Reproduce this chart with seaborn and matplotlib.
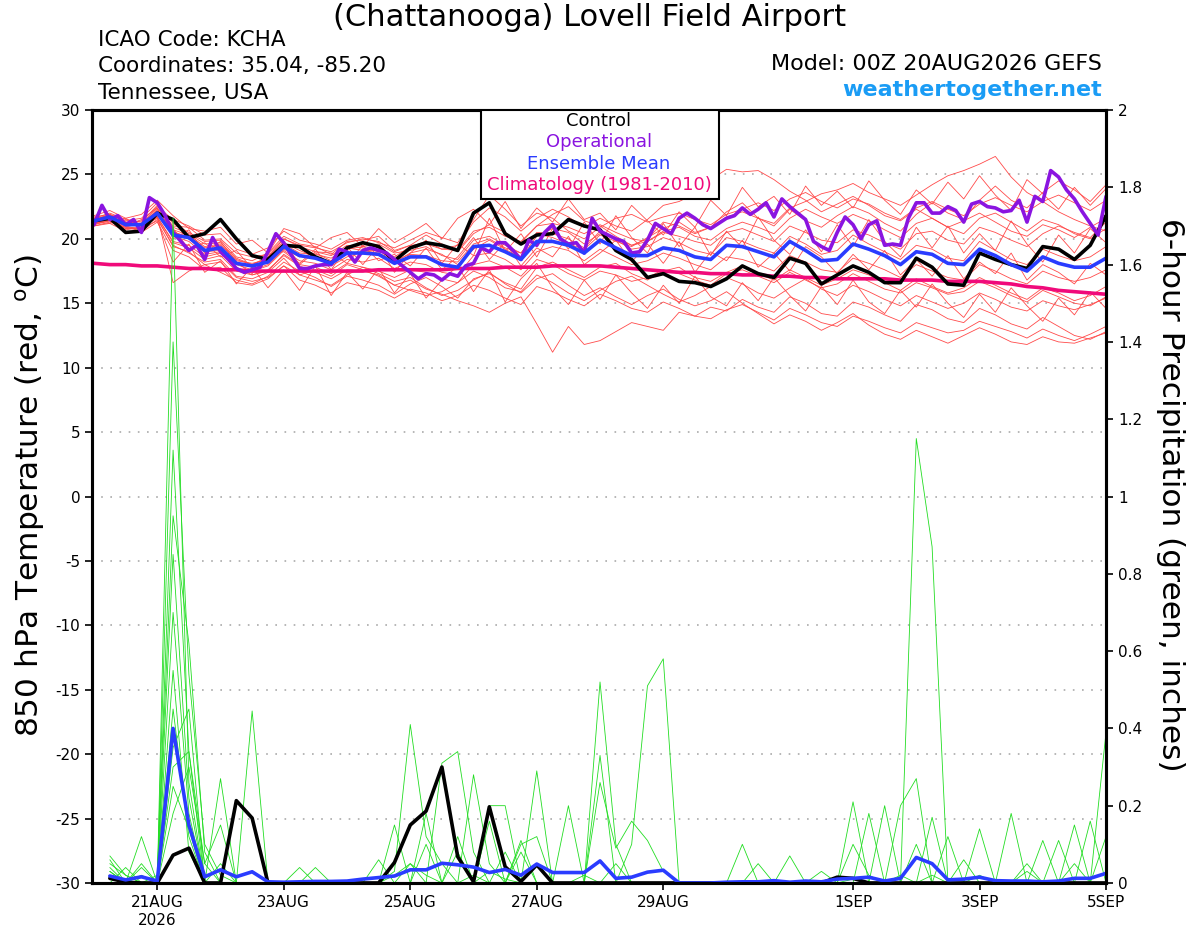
import matplotlib
matplotlib.use("Agg")
import matplotlib.pyplot as plt
from matplotlib.patches import Rectangle
import pandas as pd
import seaborn as sns

# forecast hours (GEFS 00Z 20AUG2026)
hours_6h = list(range(0, 385, 6))
hours_3h = list(range(0, 385, 3))
precip_hours = list(range(6, 385, 6))

tick_hours = [24, 72, 120, 168, 216, 288, 336, 384]
tick_labels = ["21AUG\n2026", "23AUG", "25AUG", "27AUG", "29AUG", "1SEP", "3SEP", "5SEP"]

# 850 hPa temperature (C)
control_t = [21.4, 21.6, 20.5, 20.6, 22.0, 21.5, 20.1, 20.4,
             21.5, 20.0, 18.7, 18.4, 19.5, 19.4, 18.6, 18.1,
             19.3, 19.7, 19.4, 18.3, 19.3, 19.7, 19.5, 19.1,
             22.0, 22.8, 20.4, 19.6, 20.3, 20.4, 21.5, 21.0,
             20.7, 19.1, 18.4, 17.0, 17.3, 16.7, 16.6, 16.3,
             16.9, 17.9, 17.3, 17.0, 18.5, 18.1, 16.5, 17.2,
             17.9, 17.4, 16.6, 16.6, 18.5, 17.8, 16.5, 16.4,
             18.9, 18.4, 18.0, 17.7, 19.4, 19.2, 18.4, 19.5,
             21.8]

oper_t = [21.1, 22.6, 21.5, 21.8, 21.1, 21.5, 20.5, 23.2,
          22.8, 21.8, 20.5, 19.8, 19.1, 19.5, 18.4, 20.1,
          19.0, 18.4, 17.7, 17.4, 17.6, 17.8, 19.0, 20.4,
          19.7, 18.7, 17.7, 17.7, 17.9, 18.0, 18.0, 19.2,
          19.0, 18.2, 19.1, 19.3, 19.1, 18.9, 18.4, 17.9,
          17.4, 16.9, 17.3, 17.2, 16.8, 17.3, 17.1, 17.9,
          18.1, 19.3, 19.0, 19.7, 19.7, 19.1, 18.4, 19.9,
          19.5, 20.5, 21.1, 20.0, 19.6, 19.7, 18.9, 21.6,
          20.6, 20.3, 20.0, 19.8, 18.9, 19.0, 19.9, 21.2,
          20.8, 20.4, 21.6, 22.0, 21.6, 21.1, 20.8, 21.2,
          21.6, 21.8, 22.4, 21.9, 22.3, 22.8, 21.7, 23.1,
          22.5, 22.0, 21.5, 19.8, 19.4, 19.1, 20.5, 21.7,
          21.1, 20.0, 21.1, 21.4, 19.5, 19.6, 19.5, 21.6,
          22.8, 22.8, 22.0, 22.0, 22.5, 22.2, 21.3, 22.7,
          22.9, 22.5, 22.4, 22.1, 22.2, 23.0, 21.3, 23.3,
          22.9, 25.3, 24.8, 23.8, 23.1, 22.1, 21.2, 20.3,
          23.3]

mean_t = [21.4, 21.7, 21.1, 21.1, 22.0, 20.3, 20.1, 19.1,
          19.3, 18.1, 17.9, 18.2, 19.4, 18.7, 18.5, 18.1,
          18.9, 18.9, 18.8, 18.1, 18.6, 18.6, 18.0, 17.8,
          19.4, 19.5, 19.0, 18.4, 19.8, 19.8, 19.5, 18.9,
          19.9, 19.3, 18.7, 18.7, 19.3, 19.1, 18.6, 18.4,
          19.5, 19.4, 19.0, 18.6, 19.8, 19.1, 18.3, 18.4,
          19.6, 19.2, 18.7, 18.0, 19.0, 18.8, 18.1, 18.0,
          19.2, 18.7, 18.0, 17.5, 18.6, 18.1, 17.8, 17.8,
          18.5]

clim_t = [18.1, 18.0, 18.0, 17.9, 17.9, 17.8, 17.7, 17.7,
          17.6, 17.6, 17.5, 17.5, 17.5, 17.5, 17.5, 17.5,
          17.5, 17.5, 17.6, 17.6, 17.6, 17.6, 17.6, 17.7,
          17.7, 17.7, 17.8, 17.8, 17.8, 17.9, 17.9, 17.9,
          17.9, 17.8, 17.7, 17.6, 17.5, 17.4, 17.4, 17.3,
          17.3, 17.2, 17.2, 17.1, 17.1, 17.0, 17.0, 16.9,
          16.9, 16.9, 16.9, 16.8, 16.8, 16.8, 16.7, 16.7,
          16.7, 16.6, 16.5, 16.3, 16.2, 16.0, 15.9, 15.8,
          15.7]

members_t = [
    [21.6, 22.0, 21.5, 21.3, 22.6, 21.2, 20.5, 19.8, 19.9, 18.6, 18.3, 18.9, 20.2, 19.6, 19.4, 18.8,
     19.8, 19.9, 20.2, 19.1, 19.5, 20.3, 19.6, 19.0, 20.4, 21.1, 20.5, 19.7, 21.0, 21.9, 22.5, 21.4,
     21.0, 20.2, 19.5, 20.0, 21.3, 21.0, 20.4, 20.9, 22.1, 22.8, 21.6, 21.0, 22.3, 21.4, 20.9, 21.8,
     22.5, 22.0, 21.2, 20.6, 21.9, 22.8, 22.0, 21.5, 23.0, 24.1, 23.0, 22.4, 23.6, 24.5, 23.8, 22.9, 24.2],
    [21.2, 21.5, 20.8, 20.9, 21.7, 19.8, 19.5, 18.6, 18.9, 17.8, 17.2, 17.6, 18.7, 17.9, 17.4, 16.9,
     17.6, 17.5, 17.2, 16.4, 16.8, 16.1, 15.7, 15.2, 14.8, 14.3, 15.0, 15.5, 13.4, 11.2, 13.2, 11.8,
     12.1, 12.8, 13.5, 13.2, 12.9, 14.3, 14.0, 14.7, 14.4, 15.3, 14.7, 14.3, 15.5, 15.0, 14.2, 14.0,
     15.1, 14.7, 14.1, 13.6, 14.9, 14.5, 13.8, 13.5, 14.6, 14.1, 13.4, 13.0, 13.9, 13.2, 12.5, 12.2, 12.8],
    [21.0, 21.3, 20.9, 20.6, 21.5, 19.5, 18.9, 18.2, 18.4, 17.1, 16.9, 17.4, 18.5, 17.2, 16.8, 16.4,
     17.2, 17.8, 17.3, 16.7, 17.0, 16.2, 15.6, 16.0, 16.8, 17.4, 16.5, 15.8, 16.9, 17.3, 16.4, 15.6,
     16.2, 15.5, 14.9, 15.6, 16.1, 15.3, 14.8, 15.2, 15.9, 15.0, 14.2, 13.4, 14.1, 13.6, 12.9, 13.5,
     14.2, 13.3, 12.6, 12.2, 12.9, 12.4, 11.9, 12.5, 13.1, 12.6, 12.0, 11.8, 12.4, 12.0, 11.9, 12.3, 12.7],
    [21.5, 21.9, 21.4, 21.6, 22.8, 20.9, 20.4, 19.6, 19.7, 18.5, 18.0, 18.6, 20.0, 19.4, 19.0, 18.7,
     19.5, 19.3, 19.0, 18.6, 19.4, 19.8, 19.2, 19.5, 21.3, 22.4, 21.7, 20.6, 21.6, 22.3, 21.7, 20.9,
     21.6, 21.0, 20.6, 21.5, 22.6, 22.9, 23.5, 24.6, 25.4, 25.2, 25.3, 24.6, 23.7, 23.0, 22.1, 22.7,
     23.3, 22.6, 21.8, 21.4, 22.3, 21.6, 20.9, 21.4, 22.0, 21.3, 20.6, 20.2, 21.1, 20.7, 20.1, 20.9, 21.6],
    [21.3, 21.8, 21.2, 21.0, 22.3, 20.6, 20.0, 19.0, 19.1, 18.0, 17.6, 18.0, 19.2, 18.6, 18.9, 18.3,
     19.2, 19.4, 19.6, 18.9, 19.1, 19.4, 18.7, 18.4, 19.9, 20.2, 19.5, 18.9, 20.4, 20.1, 19.6, 19.2,
     20.3, 19.8, 19.4, 20.1, 20.8, 21.3, 20.5, 20.9, 21.7, 22.1, 21.6, 21.2, 22.4, 22.9, 23.5, 23.8,
     24.3, 23.6, 23.1, 22.6, 23.4, 24.2, 24.9, 25.3, 25.8, 26.4, 24.8, 23.6, 22.9, 22.1, 21.5, 21.0, 20.6],
    [21.1, 21.4, 20.7, 20.9, 21.6, 19.4, 19.0, 18.0, 18.2, 17.0, 16.7, 17.0, 17.9, 17.2, 17.6, 17.1,
     18.0, 17.6, 17.1, 16.4, 16.0, 15.6, 15.9, 16.6, 17.5, 17.0, 16.2, 15.9, 17.2, 16.6, 15.8, 15.2,
     16.0, 16.7, 17.1, 16.4, 15.7, 15.1, 15.6, 16.3, 17.0, 16.5, 15.8, 15.4, 16.2, 16.9, 16.1, 15.6,
     16.4, 15.9, 15.3, 14.8, 15.6, 15.1, 14.6, 15.0, 15.8, 15.3, 14.7, 14.4, 15.2, 14.8, 14.5, 14.9, 15.4],
    [21.7, 21.9, 21.3, 21.2, 22.4, 21.0, 20.9, 19.9, 20.0, 18.9, 18.6, 18.8, 20.0, 19.5, 19.3, 19.0,
     19.7, 20.0, 19.8, 19.0, 19.5, 19.6, 19.2, 19.1, 20.6, 20.9, 20.2, 19.8, 21.0, 21.2, 20.9, 20.4,
     21.1, 20.5, 20.0, 19.8, 20.5, 20.2, 19.8, 19.5, 20.5, 20.8, 20.3, 19.8, 21.0, 20.5, 19.9, 19.7,
     20.7, 20.3, 19.7, 19.2, 20.4, 20.6, 19.9, 19.6, 20.9, 20.5, 19.9, 19.4, 20.4, 21.0, 20.5, 20.1, 21.3],
    [21.4, 21.6, 21.0, 20.7, 21.8, 16.6, 17.5, 18.0, 17.4, 16.8, 16.5, 17.1, 18.2, 17.5, 17.0, 16.3,
     17.1, 16.8, 16.4, 15.7, 16.5, 17.0, 16.3, 15.4, 16.9, 17.3, 16.6, 16.1, 17.8, 18.2, 17.6, 17.0,
     17.8, 18.1, 17.3, 16.8, 17.5, 17.8, 17.0, 16.7, 17.4, 17.9, 17.3, 16.8, 17.6, 17.0, 16.4, 16.9,
     17.6, 17.2, 16.6, 16.0, 16.9, 16.3, 15.8, 16.2, 17.0, 16.4, 15.8, 15.3, 16.2, 15.8, 15.2, 15.6, 16.3],
    [21.5, 21.7, 21.2, 21.4, 22.5, 21.5, 21.0, 20.3, 20.4, 19.2, 18.8, 19.3, 20.6, 19.9, 19.6, 19.2,
     19.9, 20.1, 19.7, 19.3, 19.9, 20.5, 20.1, 19.7, 21.5, 23.4, 22.3, 21.0, 22.0, 21.6, 20.6, 20.0,
     20.9, 21.6, 21.9, 21.3, 21.7, 22.0, 21.5, 21.1, 21.9, 22.3, 22.8, 22.2, 23.1, 23.6, 22.9, 22.4,
     23.1, 22.7, 22.0, 21.5, 22.4, 22.9, 22.3, 21.8, 22.7, 23.2, 22.6, 22.1, 22.9, 23.4, 22.8, 22.2, 23.0],
    [21.2, 21.6, 21.0, 21.1, 21.9, 20.2, 19.8, 18.8, 19.0, 17.7, 17.5, 17.9, 19.1, 18.3, 18.1, 17.6,
     18.4, 18.2, 18.5, 17.7, 18.2, 18.0, 17.4, 17.2, 18.7, 18.9, 18.4, 17.6, 19.0, 19.4, 19.1, 18.3,
     19.2, 18.6, 18.0, 18.3, 18.9, 18.5, 18.0, 17.6, 18.6, 18.4, 18.0, 17.5, 18.7, 18.2, 17.6, 17.4,
     18.5, 18.1, 17.6, 17.0, 18.0, 17.5, 17.0, 16.8, 18.0, 17.5, 16.9, 16.5, 17.5, 17.0, 16.7, 17.0, 17.6],
    [21.3, 21.5, 21.0, 21.2, 22.2, 20.7, 20.3, 19.4, 19.6, 18.3, 18.1, 18.4, 19.7, 19.1, 18.6, 17.9,
     18.6, 19.0, 19.2, 18.2, 18.9, 19.2, 18.8, 18.0, 19.2, 19.9, 19.2, 18.5, 20.2, 20.8, 20.5, 19.6,
     20.4, 20.0, 19.5, 19.8, 20.6, 20.9, 20.2, 19.9, 20.8, 21.3, 20.9, 20.4, 21.6, 22.3, 21.7, 21.2,
     21.9, 21.4, 20.7, 20.1, 21.2, 21.6, 20.9, 20.4, 21.6, 22.0, 21.3, 20.6, 21.5, 21.1, 20.4, 20.0, 20.8],
    [21.0, 21.2, 20.6, 20.5, 21.3, 19.1, 18.6, 17.6, 17.8, 16.6, 16.4, 16.9, 17.9, 16.8, 16.4, 15.8,
     16.6, 16.3, 16.0, 15.4, 16.1, 15.8, 15.2, 15.6, 16.4, 16.0, 15.4, 14.9, 16.3, 15.9, 15.3, 14.8,
     15.7, 15.2, 14.6, 14.3, 15.1, 14.6, 14.0, 13.8, 14.5, 14.9, 14.3, 13.7, 14.6, 14.1, 13.5, 13.2,
     14.0, 13.6, 13.1, 12.7, 13.5, 13.1, 12.7, 12.9, 13.6, 13.2, 12.8, 12.3, 13.0, 12.5, 12.1, 12.6, 13.2],
    [21.6, 21.8, 21.3, 21.1, 22.1, 20.5, 20.2, 19.3, 19.5, 18.4, 18.0, 18.5, 19.6, 18.9, 18.8, 18.5,
     19.3, 19.1, 18.9, 18.3, 18.8, 18.7, 18.3, 18.2, 19.6, 20.0, 19.3, 18.9, 20.5, 20.4, 20.0, 19.3,
     20.6, 19.9, 19.2, 19.4, 20.1, 19.7, 19.1, 18.8, 20.1, 19.8, 19.3, 18.9, 20.2, 19.6, 18.8, 19.1,
     20.3, 19.6, 19.0, 18.4, 19.5, 19.2, 18.5, 18.3, 19.8, 19.1, 18.4, 18.0, 19.2, 18.7, 18.3, 18.6, 19.4],
    [21.2, 21.4, 20.8, 20.8, 21.7, 19.7, 19.3, 18.4, 18.7, 17.5, 17.2, 17.5, 18.8, 18.0, 17.8, 17.3,
     18.1, 17.8, 17.5, 17.0, 17.6, 17.4, 16.9, 16.6, 18.0, 18.3, 17.8, 17.1, 18.4, 18.0, 17.3, 16.8,
     17.5, 17.2, 16.7, 17.0, 17.6, 17.3, 16.8, 16.4, 17.3, 17.6, 17.1, 16.6, 17.4, 16.8, 16.2, 16.5,
     17.3, 16.7, 16.1, 15.8, 16.6, 16.2, 15.7, 15.9, 16.7, 16.2, 15.6, 15.1, 16.0, 15.5, 15.0, 14.8, 15.5],
    [21.4, 21.9, 21.0, 21.5, 22.4, 20.0, 20.7, 18.9, 19.8, 18.2, 17.3, 18.8, 19.0, 18.1, 19.2, 17.6,
     19.4, 18.0, 19.5, 17.4, 18.9, 19.9, 18.1, 19.6, 18.7, 21.6, 19.0, 20.4, 18.6, 20.8, 19.2, 21.3,
     19.6, 21.8, 20.1, 18.9, 21.2, 19.4, 20.9, 18.7, 20.6, 19.3, 21.7, 19.9, 18.8, 20.7, 19.0, 21.1,
     19.4, 21.5, 19.8, 18.6, 20.9, 19.3, 21.0, 18.9, 20.4, 19.1, 21.4, 19.6, 18.2, 20.3, 18.9, 20.8, 19.7],
    [21.1, 21.5, 20.9, 20.8, 21.4, 18.2, 19.6, 17.4, 18.3, 16.5, 17.8, 16.2, 17.6, 16.0, 17.9, 15.6,
     17.4, 16.1, 17.7, 15.8, 17.3, 15.4, 16.8, 17.9, 15.9, 17.6, 15.1, 16.9, 18.1, 16.2, 14.9, 16.8,
     15.3, 17.2, 15.8, 14.6, 16.4, 15.0, 17.1, 15.5, 14.8, 16.6, 15.2, 17.0, 15.6, 14.4, 16.3, 14.9,
     16.8, 15.1, 14.2, 16.0, 14.7, 16.5, 15.0, 13.9, 15.7, 14.3, 16.2, 14.8, 13.6, 15.4, 14.1, 15.9, 14.6],
    [21.8, 22.2, 21.6, 21.9, 23.0, 21.8, 20.8, 20.6, 20.9, 19.6, 19.9, 18.9, 20.8, 20.4, 19.3, 20.1,
     20.5, 19.4, 20.8, 19.7, 20.4, 21.2, 20.0, 21.6, 22.3, 21.1, 22.9, 20.8, 22.4, 21.3, 23.1, 21.5,
     22.0, 20.7, 22.6, 21.4, 20.3, 22.1, 20.9, 23.0, 21.8, 24.0, 22.5, 23.3, 21.9, 24.1, 22.6, 23.7,
     22.4, 24.5, 23.0, 21.9, 23.8, 22.7, 24.4, 23.1, 24.9, 23.4, 22.2, 24.6, 23.5, 22.3, 24.0, 22.6, 23.9],
    [21.3, 21.2, 21.6, 20.9, 21.9, 20.8, 19.2, 19.7, 18.6, 19.1, 17.7, 18.6, 19.8, 18.0, 19.0, 18.9,
     18.1, 19.5, 18.3, 18.8, 17.9, 19.3, 17.6, 18.6, 20.1, 18.4, 19.7, 17.9, 19.3, 18.6, 20.2, 18.0,
     18.9, 19.9, 18.2, 19.6, 18.1, 19.8, 17.4, 19.0, 18.3, 19.9, 17.8, 18.9, 17.5, 19.4, 18.6, 17.3,
     18.8, 17.6, 19.1, 17.2, 18.4, 17.1, 18.7, 16.9, 18.2, 17.3, 18.9, 16.8, 18.0, 17.4, 16.5, 18.1, 17.2],
]

# 6-hour precipitation (inches)
control_p = [0.012, 0.002, 0.0, 0.0, 0.072, 0.09, 0.0, 0.0,
             0.213, 0.168, 0.0, 0.0, 0.0, 0.0, 0.0, 0.0,
             0.0, 0.0, 0.053, 0.15, 0.186, 0.30, 0.068, 0.003,
             0.197, 0.042, 0.004, 0.047, 0.0, 0.0, 0.0, 0.0,
             0.0, 0.0, 0.0, 0.0, 0.0, 0.0, 0.0, 0.0,
             0.0, 0.0, 0.0, 0.0, 0.0, 0.0, 0.015, 0.012,
             0.0, 0.0, 0.0, 0.0, 0.0, 0.0, 0.0, 0.0,
             0.0, 0.0, 0.0, 0.0, 0.0, 0.0, 0.0, 0.0]

mean_p = [0.018, 0.008, 0.016, 0.005, 0.40, 0.15, 0.016, 0.034,
          0.016, 0.029, 0.003, 0.002, 0.003, 0.004, 0.004, 0.005,
          0.010, 0.014, 0.018, 0.034, 0.034, 0.051, 0.047, 0.041,
          0.027, 0.035, 0.020, 0.049, 0.027, 0.027, 0.027, 0.057,
          0.012, 0.015, 0.028, 0.033, 0.0, 0.0, 0.0, 0.002,
          0.003, 0.003, 0.006, 0.002, 0.005, 0.003, 0.010, 0.012,
          0.015, 0.005, 0.012, 0.066, 0.050, 0.008, 0.010, 0.015,
          0.006, 0.005, 0.005, 0.003, 0.005, 0.012, 0.012, 0.025]

members_p = [
    [0.07, 0.02, 0.0, 0.0, 1.72, 0.26, 0.0, 0.0, 0.0, 0.0, 0.0, 0.0, 0.0, 0.0, 0.0, 0.0,
     0.0, 0.0, 0.02, 0.05, 0.02, 0.0, 0.0, 0.0, 0.03, 0.01, 0.0, 0.0, 0.0, 0.0, 0.02, 0.0,
     0.0, 0.0, 0.0, 0.0, 0.0, 0.0, 0.0, 0.0, 0.0, 0.0, 0.0, 0.0, 0.0, 0.03, 0.0, 0.01,
     0.0, 0.0, 0.02, 0.0, 0.0, 0.0, 0.0, 0.02, 0.0, 0.0, 0.0, 0.0, 0.0, 0.0, 0.0, 0.0],
    [0.03, 0.0, 0.05, 0.0, 1.40, 0.54, 0.10, 0.02, 0.0, 0.0, 0.0, 0.0, 0.0, 0.0, 0.0, 0.0,
     0.0, 0.0, 0.03, 0.41, 0.12, 0.05, 0.0, 0.02, 0.0, 0.0, 0.0, 0.05, 0.0, 0.0, 0.0, 0.0,
     0.0, 0.0, 0.0, 0.0, 0.0, 0.0, 0.0, 0.0, 0.0, 0.0, 0.0, 0.0, 0.0, 0.0, 0.0, 0.10,
     0.02, 0.0, 0.0, 0.0, 0.0, 0.0, 0.0, 0.0, 0.0, 0.0, 0.03, 0.0, 0.0, 0.05, 0.0, 0.0],
    [0.0, 0.04, 0.0, 0.0, 1.12, 0.34, 0.0, 0.05, 0.0, 0.445, 0.0, 0.0, 0.0, 0.0, 0.0, 0.0,
     0.0, 0.0, 0.0, 0.0, 0.0, 0.0, 0.0, 0.0, 0.0, 0.0, 0.0, 0.0, 0.0, 0.0, 0.0, 0.52,
     0.10, 0.0, 0.0, 0.0, 0.0, 0.0, 0.0, 0.0, 0.0, 0.0, 0.0, 0.0, 0.0, 0.0, 0.0, 0.0,
     0.0, 0.0, 0.0, 0.0, 0.02, 0.0, 0.0, 0.0, 0.0, 0.0, 0.0, 0.11, 0.0, 0.0, 0.0, 0.0],
    [0.0, 0.0, 0.0, 0.02, 0.95, 0.62, 0.08, 0.0, 0.0, 0.0, 0.0, 0.0, 0.0, 0.0, 0.0, 0.0,
     0.0, 0.0, 0.0, 0.0, 0.0, 0.31, 0.34, 0.08, 0.0, 0.0, 0.0, 0.0, 0.0, 0.0, 0.0, 0.0,
     0.0, 0.10, 0.51, 0.58, 0.0, 0.0, 0.0, 0.0, 0.0, 0.0, 0.0, 0.0, 0.0, 0.0, 0.0, 0.0,
     0.0, 0.0, 0.0, 0.0, 0.0, 0.0, 0.0, 0.0, 0.0, 0.0, 0.0, 0.0, 0.0, 0.0, 0.0, 0.0],
    [0.02, 0.0, 0.12, 0.0, 0.70, 0.18, 0.0, 0.27, 0.0, 0.0, 0.0, 0.0, 0.04, 0.0, 0.0, 0.0,
     0.0, 0.06, 0.0, 0.0, 0.0, 0.0, 0.0, 0.28, 0.05, 0.0, 0.0, 0.29, 0.0, 0.0, 0.0, 0.33,
     0.0, 0.0, 0.0, 0.0, 0.0, 0.0, 0.0, 0.0, 0.10, 0.0, 0.0, 0.07, 0.0, 0.0, 0.0, 0.21,
     0.0, 0.0, 0.0, 0.0, 0.0, 0.0, 0.0, 0.0, 0.0, 0.0, 0.0, 0.0, 0.0, 0.0, 0.0, 0.39],
    [0.0, 0.0, 0.0, 0.0, 0.45, 0.12, 0.0, 0.0, 0.0, 0.0, 0.0, 0.0, 0.0, 0.0, 0.0, 0.0,
     0.0, 0.0, 0.0, 0.0, 0.0, 0.0, 0.0, 0.0, 0.0, 0.0, 0.0, 0.0, 0.0, 0.0, 0.0, 0.0,
     0.0, 0.0, 0.0, 0.0, 0.0, 0.0, 0.0, 0.0, 0.0, 0.0, 0.0, 0.0, 0.0, 0.0, 0.0, 0.0,
     0.0, 0.0, 0.0, 1.15, 0.87, 0.0, 0.0, 0.0, 0.0, 0.0, 0.0, 0.0, 0.0, 0.0, 0.0, 0.0],
    [0.05, 0.02, 0.0, 0.0, 0.30, 0.34, 0.05, 0.15, 0.0, 0.0, 0.0, 0.0, 0.0, 0.04, 0.0, 0.0,
     0.0, 0.0, 0.0, 0.0, 0.18, 0.0, 0.08, 0.0, 0.20, 0.20, 0.0, 0.0, 0.0, 0.20, 0.0, 0.0,
     0.0, 0.0, 0.0, 0.0, 0.0, 0.0, 0.0, 0.0, 0.0, 0.0, 0.0, 0.0, 0.0, 0.0, 0.0, 0.0,
     0.18, 0.0, 0.20, 0.27, 0.0, 0.0, 0.0, 0.14, 0.0, 0.0, 0.0, 0.0, 0.0, 0.0, 0.16, 0.0],
    [0.06, 0.0, 0.0, 0.0, 0.25, 0.14, 0.0, 0.0, 0.0, 0.0, 0.0, 0.0, 0.0, 0.0, 0.0, 0.0,
     0.0, 0.0, 0.15, 0.0, 0.0, 0.0, 0.0, 0.0, 0.0, 0.0, 0.11, 0.0, 0.0, 0.0, 0.0, 0.26,
     0.09, 0.16, 0.11, 0.03, 0.0, 0.0, 0.0, 0.0, 0.0, 0.05, 0.0, 0.0, 0.0, 0.0, 0.0, 0.0,
     0.0, 0.0, 0.0, 0.0, 0.17, 0.0, 0.0, 0.0, 0.0, 0.18, 0.0, 0.0, 0.0, 0.15, 0.0, 0.0],
    [0.0, 0.0, 0.0, 0.0, 0.18, 0.30, 0.05, 0.0, 0.0, 0.0, 0.0, 0.0, 0.0, 0.0, 0.0, 0.0,
     0.0, 0.0, 0.0, 0.0, 0.10, 0.0, 0.0, 0.0, 0.16, 0.0, 0.08, 0.0, 0.0, 0.0, 0.0, 0.0,
     0.0, 0.0, 0.0, 0.0, 0.0, 0.0, 0.0, 0.0, 0.0, 0.0, 0.0, 0.0, 0.0, 0.0, 0.0, 0.0,
     0.0, 0.0, 0.0, 0.10, 0.0, 0.12, 0.0, 0.0, 0.0, 0.0, 0.05, 0.0, 0.0, 0.0, 0.0, 0.0],
    [0.03, 0.0, 0.04, 0.0, 0.55, 0.08, 0.0, 0.0, 0.0, 0.0, 0.0, 0.0, 0.0, 0.0, 0.0, 0.0,
     0.0, 0.0, 0.0, 0.0, 0.0, 0.0, 0.12, 0.0, 0.0, 0.0, 0.10, 0.12, 0.0, 0.0, 0.0, 0.0,
     0.0, 0.0, 0.0, 0.0, 0.0, 0.0, 0.0, 0.0, 0.0, 0.0, 0.0, 0.0, 0.0, 0.0, 0.0, 0.0,
     0.0, 0.0, 0.0, 0.0, 0.0, 0.0, 0.0, 0.0, 0.0, 0.0, 0.0, 0.0, 0.11, 0.0, 0.0, 0.0],
    [0.0, 0.0, 0.02, 0.0, 0.85, 0.22, 0.0, 0.0, 0.0, 0.0, 0.0, 0.0, 0.0, 0.0, 0.0, 0.0,
     0.0, 0.0, 0.0, 0.05, 0.0, 0.0, 0.0, 0.0, 0.0, 0.08, 0.0, 0.0, 0.0, 0.0, 0.0, 0.0,
     0.05, 0.0, 0.0, 0.0, 0.0, 0.0, 0.0, 0.0, 0.0, 0.0, 0.0, 0.0, 0.0, 0.0, 0.0, 0.0,
     0.0, 0.20, 0.0, 0.0, 0.0, 0.0, 0.0, 0.0, 0.0, 0.0, 0.0, 0.0, 0.0, 0.0, 0.0, 0.12],
    [0.04, 0.0, 0.0, 0.0, 0.35, 0.45, 0.0, 0.0, 0.0, 0.0, 0.0, 0.0, 0.0, 0.0, 0.0, 0.0,
     0.0, 0.0, 0.0, 0.0, 0.0, 0.0, 0.0, 0.0, 0.0, 0.0, 0.0, 0.0, 0.0, 0.0, 0.0, 0.0,
     0.0, 0.0, 0.0, 0.0, 0.0, 0.0, 0.0, 0.0, 0.0, 0.0, 0.0, 0.0, 0.0, 0.0, 0.0, 0.0,
     0.0, 0.0, 0.0, 0.0, 0.0, 0.0, 0.06, 0.0, 0.0, 0.0, 0.0, 0.0, 0.0, 0.0, 0.0, 0.0],
]

legend_labels = ["Control", "Operational", "Ensemble Mean", "Climatology (1981-2010)"]
legend_colors = ["black", "#8a14e0", "#2a3cff", "#f00a7a"]

# long tables for the ensemble spaghetti
temp_rows = []
for m, vals in enumerate(members_t):
    for h, v in zip(hours_6h, vals):
        temp_rows.append((m, h, v))
df_temp = pd.DataFrame(temp_rows, columns=["member", "hour", "temp"])

prcp_rows = []
for m, vals in enumerate(members_p):
    for h, v in zip(precip_hours, vals):
        prcp_rows.append((m, h, v))
df_prcp = pd.DataFrame(prcp_rows, columns=["member", "hour", "prcp"])

sns.set_style("white")
plt.rcParams["font.family"] = ["DejaVu Sans"]
plt.rcParams["axes.unicode_minus"] = False
plt.rcParams["text.color"] = "black"

fig = plt.figure(figsize=(12, 9.27), dpi=100)
ax = fig.add_axes([0.0767, 0.0475, 0.845, 0.8338])
ax2 = ax.twinx()

# temperature
sns.lineplot(data=df_temp, x="hour", y="temp", units="member", estimator=None,
             color="#ff4a4a", linewidth=0.6, ax=ax, legend=False)
sns.lineplot(x=hours_6h, y=clim_t, color=legend_colors[3], linewidth=2.6, ax=ax, estimator=None)
sns.lineplot(x=hours_6h, y=control_t, color=legend_colors[0], linewidth=2.6, ax=ax, estimator=None)
sns.lineplot(x=hours_3h, y=oper_t, color=legend_colors[1], linewidth=2.6, ax=ax, estimator=None)
sns.lineplot(x=hours_6h, y=mean_t, color=legend_colors[2], linewidth=2.6, ax=ax, estimator=None)

# precipitation
sns.lineplot(data=df_prcp, x="hour", y="prcp", units="member", estimator=None,
             color="#22dd22", linewidth=0.6, ax=ax2, legend=False)
sns.lineplot(x=precip_hours, y=control_p, color=legend_colors[0], linewidth=2.6, ax=ax2, estimator=None)
sns.lineplot(x=precip_hours, y=mean_p, color=legend_colors[2], linewidth=2.6, ax=ax2, estimator=None)

ax.set_xlim(-0.75, 384)
ax.set_ylim(-30, 30)
ax2.set_ylim(0, 2)
ax.set_yticks(range(-30, 31, 5))
ax2.set_yticks([i / 10 for i in range(0, 21, 2)])
ax2.set_yticklabels(["%g" % (i / 10) for i in range(0, 21, 2)])
ax.set_xticks(tick_hours)
ax.set_xticklabels(tick_labels)
ax.grid(axis="y", color="#aaaaaa", linestyle=(0, (1, 4.5)), linewidth=1.2)
ax.set_xlabel("")
ax.set_ylabel("")
ax2.set_ylabel("")

for a in (ax, ax2):
    for s in a.spines.values():
        s.set_linewidth(2.2)
        s.set_color("black")
    a.tick_params(axis="both", which="major", direction="out", length=5, width=1.2,
                  labelsize=11, colors="black")
ax.tick_params(axis="y", left=True, labelleft=True)
ax.tick_params(axis="x", bottom=True, pad=4)
ax2.tick_params(axis="y", right=True, labelright=True)

# legend box (centered coloured text)
box = Rectangle((0.3836, 0.8849), 0.2347, 0.1151, transform=ax2.transAxes,
                facecolor="white", edgecolor="black", linewidth=1.5, zorder=20)
ax2.add_patch(box)
for k, (lab, col) in enumerate(zip(legend_labels, legend_colors)):
    ax2.text(0.5, 0.9858 - k * 0.0278, lab, color=col, ha="center", va="center",
             fontsize=13, transform=ax2.transAxes, zorder=21)

fig.text(0.491, 0.9806, "(Chattanooga) Lovell Field Airport", ha="center", va="center", fontsize=22)
fig.text(0.0817, 0.9569, "ICAO Code: KCHA", ha="left", va="center", fontsize=15.5)
fig.text(0.0817, 0.9288, "Coordinates: 35.04, -85.20", ha="left", va="center", fontsize=15.5)
fig.text(0.0817, 0.8997, "Tennessee, USA", ha="left", va="center", fontsize=15.5)
fig.text(0.9183, 0.931, "Model: 00Z 20AUG2026 GEFS", ha="right", va="center", fontsize=16)
fig.text(0.9183, 0.903, "weathertogether.net", ha="right", va="center", fontsize=16,
         fontweight="bold", color="#1a9cf5")
fig.text(0.025, 0.466, r"850 hPa Temperature (red, $^{\mathrm{o}}$C)", ha="center", va="center",
         rotation=90, fontsize=22.5)
fig.text(0.975, 0.466, "6-hour Precipitation (green, inches)", ha="center", va="center",
         rotation=270, fontsize=22.5)

fig.savefig("out.png", dpi=100)
